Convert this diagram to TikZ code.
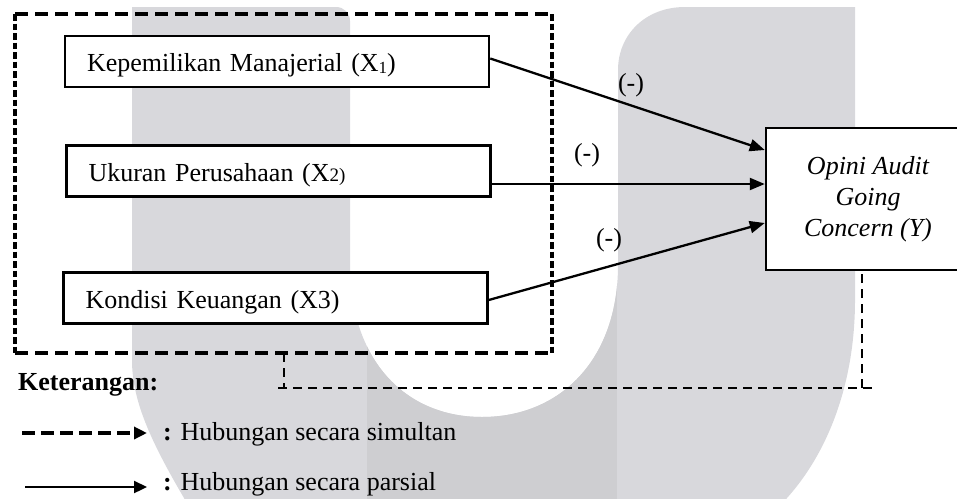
\documentclass[tikz,border=0pt]{standalone}
\usepackage{fontspec}
\setmainfont{Liberation Serif}
\usetikzlibrary{arrows.meta,calc}
\definecolor{wmA}{RGB}{216,216,220}
\definecolor{wmB}{RGB}{206,206,209}
\begin{document}
\begin{tikzpicture}[x=1pt,y=-1pt,
  font=\fontsize{26}{31}\selectfont,
  varbox/.style={draw,line width=2.5pt,fill=white,text width=380pt,inner xsep=22pt,
    inner ysep=0pt,minimum height=51pt,align=left,text height=20pt,text depth=0pt},
  ybox/.style={draw,line width=2.5pt,fill=white,minimum width=204pt,minimum height=142pt,
    align=center,font=\fontsize{26}{31}\selectfont\itshape,inner sep=0pt},
  partarrow/.style={line width=2.3pt,-{Triangle[length=15pt,width=12pt]}},
  hdash/.style={line width=3.8pt,dash pattern=on 13pt off 7pt},
  vdash/.style={line width=3.4pt,dash pattern=on 6.5pt off 3pt},
  thindash/.style={line width=1.6pt,dash pattern=on 9pt off 6pt},
  lbl/.style={inner sep=0pt}]
\useasboundingbox (0,0) rectangle (957,498);
% watermark
\def\wmpath{(132,7) -- (336,7) .. controls (344,7) and (350,13) .. (350,21)
  -- (350,265) .. controls (350,360) and (405,417) .. (482,417)
  .. controls (560,417) and (618,360) .. (618,265)
  -- (618,70) .. controls (618,35) and (645,7) .. (685,7) -- (855,7)
  -- (855,300) .. controls (855,380) and (830,450) .. (787,498) -- (780,510)
  -- (190,510) -- (184,498) .. controls (150,440) and (132,400) .. (132,360) -- cycle}
\fill[wmA] \wmpath;
\begin{scope}
  \clip \wmpath;
  \fill[wmB] (367,0) rectangle (617,510);
\end{scope}
% group frame
\coordinate (g1) at (15,14);
\coordinate (g2) at (552,353);
\draw[hdash] (g1) -- (g1 -| g2);
\draw[hdash] (g1 |- g2) -- (g2);
\draw[vdash] (g1) -- (g1 |- g2);
\draw[vdash] (g1 -| g2) -- (g2);
% boxes
\node[varbox] (x1) at (277,61.5) {Kepemilikan Manajerial (X\raisebox{-2pt}{\fontsize{17}{17}\selectfont 1})};
\node[varbox] (x2) at (278.5,171) {Ukuran Perusahaan (X{\fontsize{19}{19}\selectfont 2)}};
\node[varbox] (x3) at (275.5,298) {Kondisi Keuangan (X3)};
\node[ybox] (y) at (868,199) {Opini Audit\\Going\\Concern (Y)};
% partial arrows
\draw[partarrow] ($(x1.east)+(0,-3)$) -- ($(y.west)+(0,-49)$);
\draw[partarrow] ($(x2.east)+(0,13)$) -- ($(y.west)+(0,-15)$);
\draw[partarrow] ($(x3.east)+(0,2)$) -- ($(y.west)+(0,24)$);
\node[lbl] (m1) at (631,85) {(-)};
\node[lbl] (m2) at (587,155) {(-)};
\node[lbl] (m3) at (609,240) {(-)};
% simultaneous connector
\coordinate (gb) at (284,353);
\coordinate (cor) at (862,388);
\coordinate (yb) at ($(y.south)+(-6,0)$);
\draw[thindash] (gb) -- (gb |- cor);
\draw[thindash] ($(gb |- cor)+(-6,0)$) -- ($(cor)+(13,0)$);
\draw[thindash] (cor) -- (yb |- y.south);
% legend
\node[lbl,anchor=base west] (ket) at (18,390) {\textbf{Keterangan:}};
\coordinate (l1a) at (22,433);
\coordinate (l1b) at (147,433);
\draw[line width=4pt,dash pattern=on 13pt off 6pt,-{Triangle[length=13pt,width=12pt]}] (l1a) -- (l1b);
\node[lbl,anchor=base west] (t1) at (163,440) {\textbf{:} Hubungan secara simultan};
\coordinate (l2a) at (25,487);
\coordinate (l2b) at (147,487);
\draw[line width=2.3pt,-{Triangle[length=13pt,width=12pt]}] (l2a) -- (l2b);
\node[lbl,anchor=base west] (t2) at (163,490) {\textbf{:} Hubungan secara parsial};
\end{tikzpicture}
\end{document}
